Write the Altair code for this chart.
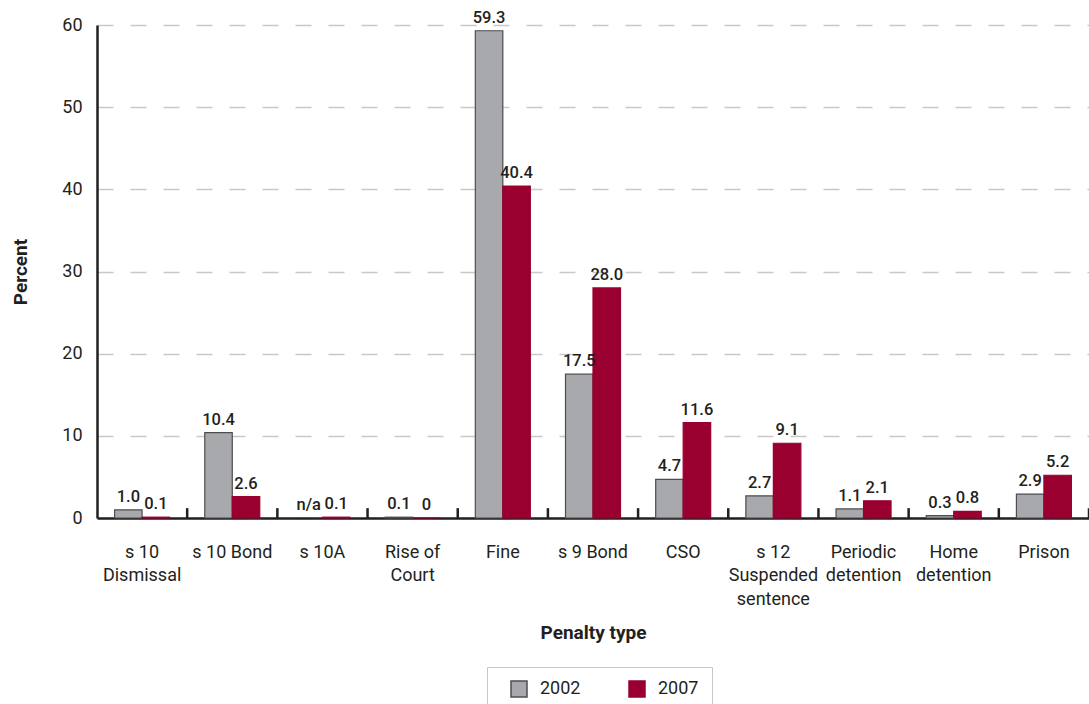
import altair as alt
import pandas as pd

categories = ["s 10|Dismissal", "s 10 Bond", "s 10A", "Rise of|Court", "Fine",
              "s 9 Bond", "CSO", "s 12|Suspended|sentence", "Periodic|detention",
              "Home|detention", "Prison"]
years = ["2002", "2007"]
values_2002 = [1.0, 10.4, None, 0.1, 59.3, 17.5, 4.7, 2.7, 1.1, 0.3, 2.9]
values_2007 = [0.1, 2.6, 0.1, 0.0, 40.4, 28.0, 11.6, 9.1, 2.1, 0.8, 5.2]
labels_2002 = ["1.0", "10.4", "n/a", "0.1", "59.3", "17.5", "4.7", "2.7", "1.1", "0.3", "2.9"]
labels_2007 = ["0.1", "2.6", "0.1", "0", "40.4", "28.0", "11.6", "9.1", "2.1", "0.8", "5.2"]

rows = []
for i, c in enumerate(categories):
    rows.append({"cat": c, "year": "2002", "value": values_2002[i], "label": labels_2002[i]})
    rows.append({"cat": c, "year": "2007", "value": values_2007[i], "label": labels_2007[i]})
df = pd.DataFrame(rows)
df["ypos"] = df["value"].fillna(0)

FONT = "Roboto, sans-serif"
DARK = "#231f20"
GRAY = "#a7a9ac"
RED = "#990030"

xenc = alt.X("cat:N", sort=categories,
             scale=alt.Scale(paddingInner=0, paddingOuter=0),
             axis=alt.Axis(title="Penalty type", labelExpr="split(datum.label, '|')",
                           labelAngle=0, labelAlign="center", labelBaseline="top", labelPadding=25,
                           labelLineHeight=23.5, labelFontSize=18, ticks=False,
                           domainColor=DARK, domainWidth=2.5, titleFontSize=19,
                           titleFontWeight="bold", titleY=114, titleBaseline="middle"))
xoff = alt.XOffset("year:N", sort=years, scale=alt.Scale(paddingInner=0, paddingOuter=0.64))
yenc = alt.Y("ypos:Q", scale=alt.Scale(domain=[0, 60], nice=False),
             axis=alt.Axis(title="Percent", values=[0, 10, 20, 30, 40, 50, 60],
                           ticks=False, labelPadding=15, labelFontSize=18,
                           domainColor=DARK, domainWidth=2.5, grid=True,
                           gridColor="#c8c8c8", gridDash=[16, 17], gridWidth=1.5,
                           titleFontSize=19, titleFontWeight="bold",
                           titleX=-77, titleBaseline="middle"))

legend = alt.Legend(title=None, orient="none", legendX=390, legendY=642, direction="horizontal",
                    symbolType="square", symbolSize=256, symbolStrokeWidth=1.5,
                    labelFontSize=18, labelOffset=12, columnPadding=37, padding=13,
                    symbolOffset=10, strokeColor="#c8c8c8", labelColor=DARK)

bars = alt.Chart(df).mark_bar(strokeWidth=1.2).encode(
    x=xenc, xOffset=xoff,
    y=alt.Y("value:Q", scale=alt.Scale(domain=[0, 60], nice=False)),
    color=alt.Color("year:N", scale=alt.Scale(domain=years, range=[GRAY, RED]), legend=legend),
    stroke=alt.Stroke("year:N", scale=alt.Scale(domain=years, range=["#4d4d4d", RED]), legend=legend),
)

texts = alt.Chart(df).mark_text(baseline="bottom", dy=-5, fontSize=16.5, fontWeight=500,
                                color=DARK, font=FONT).encode(
    x=xenc, xOffset=xoff, y=yenc, text="label:N")

ticks = alt.Chart(df[df["year"] == "2002"]).mark_rule(color=DARK, strokeWidth=2.5).encode(
    x=alt.X("cat:N", sort=categories, bandPosition=1),
    y=alt.datum(0), y2=alt.datum(1.2))

chart = alt.layer(ticks, bars, texts).properties(
    width=992, height=493,
    autosize=alt.AutoSizeParams(type="none"),
    padding={"left": 97, "top": 25, "right": 0, "bottom": 186},
).configure(font=FONT).configure_view(stroke=None).configure_axis(
    labelColor=DARK, titleColor=DARK, labelFont=FONT, titleFont=FONT
)

chart.save("out.html", embed_options={"renderer": "svg", "actions": False})
